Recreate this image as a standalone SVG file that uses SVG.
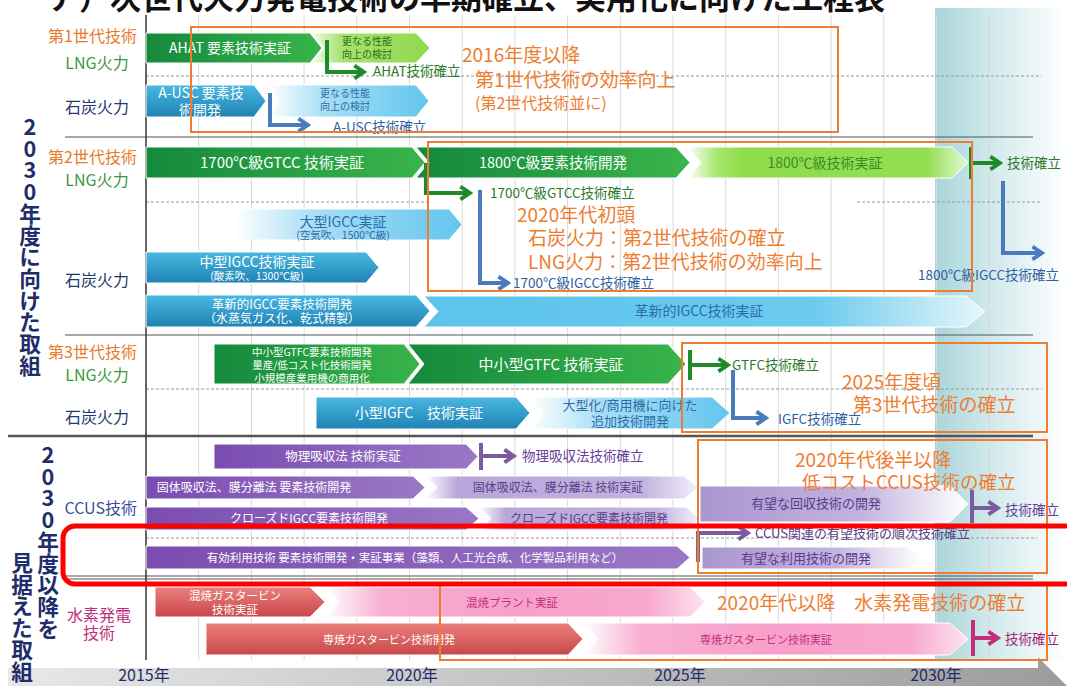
<svg xmlns="http://www.w3.org/2000/svg" width="1067" height="686" viewBox="0 0 1067 686">
<style>
text{font-family:'Noto Sans CJK JP','Noto Sans',sans-serif}
.w{fill:#fff}
.bar{stroke:#fff;stroke-width:1}
.ob{fill:none;stroke:#ed7d31;stroke-width:2}
.ot{fill:#ed7d31;font-size:19px}
.grid{stroke:#d9d9d9;stroke-width:1}
.sep{stroke:#555;stroke-width:1.2}
.dash{stroke:#999;stroke-width:1.2;stroke-dasharray:3 2}
.vt{font-size:21.7px;font-weight:bold;fill:#1f2d6b;writing-mode:vertical-rl;text-orientation:upright}
.c{text-anchor:middle}
.gl{fill:#2b7a2b}
.bl{fill:#2e5fa0}
.pl{fill:#5a3d8a}
.mg{fill:#c0307a}
.cg{fill:none;stroke:#1e8a2a;stroke-width:4}
.cb{fill:none;stroke:#4a7bbf;stroke-width:4}
.cp{fill:none;stroke:#7a5aa0;stroke-width:4}
.cm{fill:none;stroke:#c0307a;stroke-width:4}
</style>
<defs>
<linearGradient id="gDark"><stop offset="0" stop-color="#14893c"/><stop offset="1" stop-color="#39b54a"/></linearGradient>
<linearGradient id="gLG"><stop offset="0" stop-color="#f2fbe8"/><stop offset="0.25" stop-color="#a6e270"/><stop offset="1" stop-color="#8fd94f"/></linearGradient>
<linearGradient id="gLime"><stop offset="0" stop-color="#ffffff"/><stop offset="0.1" stop-color="#a8e870"/><stop offset="0.2" stop-color="#8edc4a"/><stop offset="0.85" stop-color="#92de50"/><stop offset="1" stop-color="#e4f8d4"/></linearGradient>
<linearGradient id="gBlue" x1="0" y1="0" x2="0" y2="1"><stop offset="0" stop-color="#49b8e2"/><stop offset="1" stop-color="#1f82b3"/></linearGradient>
<linearGradient id="gLB"><stop offset="0" stop-color="#ffffff"/><stop offset="0.35" stop-color="#a8def5"/><stop offset="1" stop-color="#63c6ee"/></linearGradient>
<linearGradient id="gLB3"><stop offset="0" stop-color="#5cc3ea"/><stop offset="0.7" stop-color="#6ccbef"/><stop offset="1" stop-color="#e6f6fc"/></linearGradient>
<linearGradient id="gPurple"><stop offset="0" stop-color="#7a4cb0"/><stop offset="1" stop-color="#9a78c6"/></linearGradient>
<linearGradient id="gLav"><stop offset="0" stop-color="#ffffff"/><stop offset="0.12" stop-color="#b8a6d8"/><stop offset="0.8" stop-color="#c3b3df"/><stop offset="1" stop-color="#f3effa"/></linearGradient>
<linearGradient id="gLav2"><stop offset="0" stop-color="#a996cf"/><stop offset="0.6" stop-color="#c3b3df"/><stop offset="1" stop-color="#ffffff"/></linearGradient>
<linearGradient id="gRed" x1="0" y1="0" x2="0" y2="1"><stop offset="0" stop-color="#ea807c"/><stop offset="1" stop-color="#c9474a"/></linearGradient>
<linearGradient id="gPink"><stop offset="0" stop-color="#ffffff"/><stop offset="0.15" stop-color="#f8b0d2"/><stop offset="0.5" stop-color="#f79fca"/><stop offset="0.85" stop-color="#f8a8cf"/><stop offset="1" stop-color="#fde4f0"/></linearGradient>
<linearGradient id="gTeal"><stop offset="0" stop-color="#a9d5da"/><stop offset="0.4" stop-color="#cfe8eb"/><stop offset="1" stop-color="#ffffff"/></linearGradient>
<linearGradient id="gAxis"><stop offset="0" stop-color="#e8e8e8"/><stop offset="1" stop-color="#9c9c9c"/></linearGradient>
<marker id="ag" viewBox="0 0 10 10" refX="8" refY="5" markerWidth="4" markerHeight="4" orient="auto"><path d="M2,1 L8,5 L2,9" fill="none" stroke="#1e8a2a" stroke-width="2.4"/></marker>
<marker id="ab" viewBox="0 0 10 10" refX="8" refY="5" markerWidth="4" markerHeight="4" orient="auto"><path d="M2,1 L8,5 L2,9" fill="none" stroke="#4a7bbf" stroke-width="2.4"/></marker>
<marker id="ap" viewBox="0 0 10 10" refX="8" refY="5" markerWidth="4" markerHeight="4" orient="auto"><path d="M2,1 L8,5 L2,9" fill="none" stroke="#7a5aa0" stroke-width="2.4"/></marker>
<marker id="am" viewBox="0 0 10 10" refX="8" refY="5" markerWidth="4" markerHeight="4" orient="auto"><path d="M2,1 L8,5 L2,9" fill="none" stroke="#c0307a" stroke-width="2.4"/></marker>
</defs>
<rect width="1067" height="686" fill="#fff"/>
<rect x="935" y="8" width="132" height="652" fill="url(#gTeal)"/>
<text x="48" y="9" font-size="31" font-weight="bold" fill="#111">ア）次世代火力発電技術の早期確立、実用化に向けた工程表</text>
<g id="grid">
<path class="grid" d="M198.7,15V660M251.4,15V660M304.1,15V660M356.8,15V660M409.5,15V660M462.2,15V660M514.9,15V660M567.6,15V660M620.3,15V660M673,15V660M725.7,15V660M778.4,15V660M831.1,15V660M883.8,15V660M936.5,15V660M989.2,15V660"/>
<path class="dash" d="M146,76H1042M146,202H430M857,202H1042M146,389H1042M146,538H1037"/>
<path class="sep" d="M65,137H1033M65,335H1033M65,576H1033M65,579H1033"/>
<path d="M8,436H1033" stroke="#555" stroke-width="2.5"/>
<path d="M146,15V660" stroke="#333" stroke-width="1.5"/>
<polygon points="8,668 1038,668 1038,657 1067,686 8,686" fill="url(#gAxis)"/>
</g>
<g id="years" font-size="16" fill="#1f2d6b" text-anchor="middle">
<text x="144" y="681">2015年</text><text x="412" y="681">2020年</text><text x="680" y="681">2025年</text><text x="936" y="681">2030年</text>
</g>
<g id="side-labels" font-size="16">
<text x="137" y="42" text-anchor="end" fill="#e87a2a">第1世代技術</text>
<text x="97" y="69" class="c" fill="#3a9a3a">LNG火力</text>
<text x="97" y="113" class="c" fill="#1f3a6e">石炭火力</text>
<text x="137" y="163" text-anchor="end" fill="#e87a2a">第2世代技術</text>
<text x="97" y="186" class="c" fill="#3a9a3a">LNG火力</text>
<text x="97" y="286" class="c" fill="#1f3a6e">石炭火力</text>
<text x="137" y="358" text-anchor="end" fill="#e87a2a">第3世代技術</text>
<text x="97" y="381" class="c" fill="#3a9a3a">LNG火力</text>
<text x="97" y="423" class="c" fill="#1f3a6e">石炭火力</text>
<text x="137" y="514" text-anchor="end" fill="#3a4f9a">CCUS技術</text>
<text class="c" fill="#c0307a"><tspan x="99" y="621">水素発電</tspan><tspan x="99" y="639">技術</tspan></text>
</g>
<g id="section-labels">
<text class="vt" x="30" y="116">2030年度に向けた取組</text>
<text class="vt" x="48" y="444">2030年度以降を</text>
<text class="vt" x="22" y="552">見据えた取組</text>
</g>
<g id="n-ahat"><path class="bar" d="M146,33H310L322,48L310,63H146Z" fill="url(#gDark)"/><text class="w c" x="230" y="53" font-size="14">AHAT 要素技術実証</text></g>
<g id="n-ahat-next"><path class="bar" d="M312,33H416L430,48L416,63H312L324,48Z" fill="url(#gLG)"/><text class="c" font-size="10" fill="#2a6a1a"><tspan x="367" y="45">更なる性能</tspan><tspan x="367" y="58">向上の検討</tspan></text></g>
<g id="n-ausc"><path class="bar" d="M146,85H254L266,101L254,117H146Z" fill="url(#gBlue)"/><text class="w c" font-size="14"><tspan x="201" y="98">A-USC 要素技</tspan><tspan x="200" y="115">術開発</tspan></text></g>
<g id="n-ausc-next"><path class="bar" d="M268,85H416L429,101L416,117H268L280,101Z" fill="url(#gLB)"/><text class="c" font-size="10" fill="#2e6ca8"><tspan x="345" y="97">更なる性能</tspan><tspan x="345" y="110">向上の検討</tspan></text></g>
<g id="n-gtcc1700"><path class="bar" d="M146,147H412L425,162.5L412,178H146Z" fill="url(#gDark)"/><text class="w c" x="282" y="168" font-size="15">1700℃級GTCC 技術実証</text></g>
<g id="n-gtcc1800dev"><path class="bar" d="M416,147H676L690,162.5L676,178H416L429,162.5Z" fill="url(#gDark)"/><text class="w c" x="553" y="168" font-size="14.5">1800℃級要素技術開発</text></g>
<g id="n-gtcc1800demo"><path class="bar" d="M688,147H952L968,162.5L952,178H688L701,162.5Z" fill="url(#gLime)"/><text class="c" x="825" y="168" font-size="14" fill="#3a8a2a">1800℃級技術実証</text></g>
<g id="n-igcc-large"><path class="bar" d="M235,209H449L462,224.5L449,240H235Z" fill="url(#gLB)"/><text class="c" fill="#2e6ca8"><tspan x="343" y="227" font-size="14">大型IGCC実証</tspan><tspan x="343" y="239" font-size="10.5">(空気吹、1500℃級)</tspan></text></g>
<g id="n-igcc-mid"><path class="bar" d="M146,252H366L379,267.5L366,283H146Z" fill="url(#gBlue)"/><text class="w c"><tspan x="257" y="267" font-size="14">中型IGCC技術実証</tspan><tspan x="257" y="280" font-size="10.5">(酸素吹、1300℃級)</tspan></text></g>
<g id="n-igcc-inno-dev"><path class="bar" d="M146,295H416L430,311L416,327H146Z" fill="url(#gBlue)"/><text class="w c"><tspan x="282" y="309" font-size="12.5">革新的IGCC要素技術開発</tspan><tspan x="282" y="323" font-size="12">（水蒸気ガス化、乾式精製）</tspan></text></g>
<g id="n-igcc-inno-demo"><path class="bar" d="M424,296H966L985,311.5L966,327H424L438,311.5Z" fill="url(#gLB3)"/><text class="c" x="699" y="316" font-size="14" fill="#2e6ca8">革新的IGCC技術実証</text></g>
<g id="n-gtfc-dev"><path class="bar" d="M214,344H404L420,364L404,384H214Z" fill="url(#gDark)"/><text class="w c" font-size="10.5"><tspan x="312" y="356">中小型GTFC要素技術開発</tspan><tspan x="312" y="369">量産/低コスト化技術開発</tspan><tspan x="312" y="382">小規模産業用機の商用化</tspan></text></g>
<g id="n-gtfc-demo"><path class="bar" d="M408,344H668L686,364L668,384H408L424,364Z" fill="url(#gDark)"/><text class="w c" x="551" y="370" font-size="15">中小型GTFC 技術実証</text></g>
<g id="n-igfc-small"><path class="bar" d="M316,397H516L530,413L516,429H316Z" fill="url(#gBlue)"/><text class="w c" x="419" y="418" font-size="14">小型IGFC　技術実証</text></g>
<g id="n-igfc-large"><path class="bar" d="M530,397H712L730,413L712,429H530L544,413Z" fill="url(#gLB)"/><text class="c" font-size="13" fill="#2e6ca8"><tspan x="630" y="410">大型化/商用機に向けた</tspan><tspan x="630" y="426">追加技術開発</tspan></text></g>
<g id="n-phys"><path class="bar" d="M214,444H466L478,456.5L466,469H214Z" fill="url(#gPurple)"/><text class="w c" x="343" y="461" font-size="12.5">物理吸収法 技術実証</text></g>
<g id="n-solid-dev"><path class="bar" d="M146,476H413L425,487.5L413,499H146Z" fill="url(#gPurple)"/><text class="w c" x="254" y="492" font-size="12">固体吸収法、膜分離法 要素技術開発</text></g>
<g id="n-solid-demo"><path class="bar" d="M425,476H684L698,487.5L684,499H425L437,487.5Z" fill="url(#gLav)"/><text class="pl c" x="558" y="492" font-size="12">固体吸収法、膜分離法 技術実証</text></g>
<g id="n-closed-dev"><path class="bar" d="M146,507H466L479,518.5L466,530H146Z" fill="url(#gPurple)"/><text class="w c" x="309" y="523" font-size="12">クローズドIGCC要素技術開発</text></g>
<g id="n-closed-dev2"><path class="bar" d="M479,507H686L700,518.5L686,530H479L491,518.5Z" fill="url(#gLav)"/><text class="pl c" x="589" y="523" font-size="12">クローズドIGCC要素技術開発</text></g>
<g id="n-util"><path class="bar" d="M146,546H677L690,557.5L677,569H146Z" fill="url(#gPurple)"/><text class="w c" x="415" y="562" font-size="11.5">有効利用技術 要素技術開発・実証事業（藻類、人工光合成、化学製品利用など）</text></g>
<g id="n-capture"><path class="bar" d="M700,486H950L968,504L950,522H700Z" fill="url(#gLav2)"/><text class="pl c" x="816" y="508" font-size="13">有望な回収技術の開発</text></g>
<g id="n-use"><path class="bar" d="M702,547H908L922,558L908,569H702Z" fill="url(#gLav2)"/><text class="pl c" x="806" y="563" font-size="13">有望な利用技術の開発</text></g>
<g id="n-cofire-gt"><path class="bar" d="M155,587H310L325,602L310,617H155Z" fill="url(#gRed)"/><text class="w c" font-size="11.5"><tspan x="235" y="600">混焼ガスタービン</tspan><tspan x="235" y="614">技術実証</tspan></text></g>
<g id="n-cofire-plant"><path class="bar" d="M325,587H690L705,602L690,617H325L340,602Z" fill="url(#gPink)"/><text class="mg c" x="512" y="607" font-size="11.5">混焼プラント実証</text></g>
<g id="n-h2-gt-dev"><path class="bar" d="M206,623H568L583,639L568,655H206Z" fill="url(#gRed)"/><text class="w c" x="389" y="644" font-size="11">専焼ガスタービン技術開発</text></g>
<g id="n-h2-gt-demo"><path class="bar" d="M583,623H950L968,639L950,655H583L598,639Z" fill="url(#gPink)"/><text class="mg c" x="766" y="644" font-size="11">専焼ガスタービン技術実証</text></g>
<g id="connectors">
<path class="cg" d="M327,40V72H364" marker-end="url(#ag)"/>
<path class="cb" d="M270,93V125H308" marker-end="url(#ab)"/>
<path class="cg" d="M426,163V193H470" marker-end="url(#ag)"/>
<path class="cb" d="M480,190V283H508" marker-end="url(#ab)"/>
<path class="cg" d="M971,147V179"/>
<path class="cg" d="M971,163H1000" marker-end="url(#ag)"/>
<path class="cb" d="M1003,181V253H1042" marker-end="url(#ab)"/>
<path class="cg" d="M690,350V380"/>
<path class="cg" d="M690,365H728" marker-end="url(#ag)"/>
<path class="cb" d="M733,370V418H766" marker-end="url(#ab)"/>
<path class="cp" d="M481,443V470"/>
<path class="cp" d="M481,456H514" marker-end="url(#ap)"/>
<path class="cp" d="M972,490V523"/>
<path class="cp" d="M972,508H998" marker-end="url(#ap)"/>
<path d="M698,531V562" stroke="#8a5a8a" stroke-width="4"/>
<path class="cp" d="M698,533H748" marker-end="url(#ap)"/>
<path class="cm" d="M973,620V656"/>
<path class="cm" d="M973,638H998" marker-end="url(#am)"/>
</g>
<g id="milestones" font-size="13.5">
<text class="gl" x="373" y="76">AHAT技術確立</text>
<text class="bl" x="333" y="132">A-USC技術確立</text>
<text class="gl" x="1007" y="168">技術確立</text>
<text class="gl" x="490" y="198">1700℃級GTCC技術確立</text>
<text class="bl" x="513" y="288">1700℃級IGCC技術確立</text>
<text class="bl" x="918" y="280" font-size="13.5">1800℃級IGCC技術確立</text>
<text class="gl" x="732" y="370">GTFC技術確立</text>
<text class="bl" x="778" y="424">IGFC技術確立</text>
<text x="522" y="461" fill="#6a3d9a">物理吸収法技術確立</text>
<text x="1005" y="515" fill="#6a3d9a">技術確立</text>
<text class="pl" x="755" y="538" font-size="13">CCUS関連の有望技術の順次技術確立</text>
<text x="1005" y="644" fill="#a02870">技術確立</text>
</g>
<g id="goal-boxes">
<rect class="ob" x="191" y="27" width="647" height="105"/>
<text class="ot"><tspan x="462" y="62">2016年度以降</tspan><tspan x="475" y="87">第1世代技術の効率向上</tspan><tspan x="475" y="109" font-size="16">(第2世代技術並に)</tspan></text>
<rect class="ob" x="428" y="142" width="544" height="149"/>
<text class="ot"><tspan x="517" y="222">2020年代初頭</tspan><tspan x="528" y="245">石炭火力：第2世代技術の確立</tspan><tspan x="528" y="269">LNG火力：第2世代技術の効率向上</tspan></text>
<rect class="ob" x="682" y="343" width="365" height="89"/>
<text class="ot"><tspan x="842" y="389">2025年度頃</tspan><tspan x="853" y="412">第3世代技術の確立</tspan></text>
<rect class="ob" x="698" y="440" width="349" height="133"/>
<text class="ot"><tspan x="795" y="467">2020年代後半以降</tspan><tspan x="802" y="489" font-size="18.5">低コストCCUS技術の確立</tspan></text>
<rect class="ob" x="440" y="585" width="607" height="75"/>
<text class="ot" x="717" y="610">2020年代以降　水素発電技術の確立</text>
</g>
<rect id="highlight" x="63" y="526" width="1030" height="58" rx="12" fill="none" stroke="#ff0000" stroke-width="5"/>
</svg>
